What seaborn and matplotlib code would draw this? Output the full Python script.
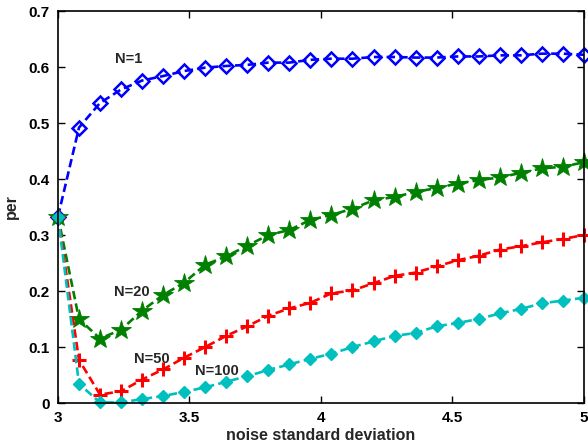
import numpy as np
import pandas as pd
import matplotlib
matplotlib.use("Agg")
import matplotlib.pyplot as plt
import seaborn as sns

# noise levels (standard deviation)
sigma = [3.00, 3.08, 3.16, 3.24, 3.32, 3.40, 3.48, 3.56, 3.64, 3.72, 3.80, 3.88, 3.96,
         4.04, 4.12, 4.20, 4.28, 4.36, 4.44, 4.52, 4.60, 4.68, 4.76, 4.84, 4.92, 5.00]

per_n1 = [0.333, 0.492, 0.536, 0.560, 0.576, 0.584, 0.593, 0.599, 0.602, 0.604, 0.608, 0.608, 0.613,
          0.615, 0.615, 0.618, 0.618, 0.617, 0.617, 0.619, 0.619, 0.621, 0.621, 0.624, 0.624, 0.622]
per_n20 = [0.333, 0.150, 0.115, 0.131, 0.165, 0.193, 0.215, 0.247, 0.262, 0.281, 0.300, 0.309, 0.327,
           0.336, 0.347, 0.362, 0.368, 0.377, 0.384, 0.392, 0.398, 0.403, 0.411, 0.419, 0.422, 0.430]
per_n50 = [0.333, 0.077, 0.015, 0.021, 0.042, 0.060, 0.081, 0.100, 0.120, 0.137, 0.156, 0.169, 0.179,
           0.196, 0.201, 0.214, 0.227, 0.233, 0.244, 0.255, 0.263, 0.274, 0.280, 0.287, 0.293, 0.300]
per_n100 = [0.333, 0.034, 0.001, 0.001, 0.007, 0.0125, 0.020, 0.028, 0.038, 0.048, 0.059, 0.069, 0.079,
            0.088, 0.100, 0.110, 0.120, 0.125, 0.137, 0.143, 0.150, 0.160, 0.168, 0.178, 0.183, 0.188]

series_names = ["N=1", "N=20", "N=50", "N=100"]
series_values = [per_n1, per_n20, per_n50, per_n100]

df = pd.concat(
    [pd.DataFrame({"sigma": sigma, "per": v, "N": name})
     for name, v in zip(series_names, series_values)],
    ignore_index=True,
)

sns.set_theme(style="ticks")
plt.rcParams["font.family"] = ["Liberation Sans", "DejaVu Sans"]
plt.rcParams["font.weight"] = "bold"

fig = plt.figure(figsize=(5.88, 4.44), dpi=100)
ax = fig.add_axes([0.0986, 0.0923, 0.8944, 0.8827])

styles = {
    "N=1":   dict(color="#0000ff", marker="D", markersize=7.5, markerfacecolor="none",
                  markeredgewidth=1.8, markeredgecolor="#0000ff"),
    "N=20":  dict(color="#008000", marker="*", markersize=15, markerfacecolor="#008000",
                  markeredgecolor="#008000", markeredgewidth=0.6),
    "N=50":  dict(color="#ff0000", marker="+", markersize=10, markeredgewidth=2.2,
                  markeredgecolor="#ff0000"),
    "N=100": dict(color="#00bfbf", marker="D", markersize=6, markerfacecolor="#00bfbf",
                  markeredgecolor="#00bfbf", markeredgewidth=1.0),
}

for name in series_names:
    sub = df[df["N"] == name]
    sns.lineplot(data=sub, x="sigma", y="per", ax=ax, linewidth=1.9,
                 linestyle=(0, (3.2, 1.6)), legend=False, clip_on=False,
                 **styles[name])

ax.set_xlim(3, 5)
ax.set_ylim(0, 0.7)
ax.set_xticks([3, 3.5, 4, 4.5, 5])
ax.set_xticklabels(["3", "3.5", "4", "4.5", "5"])
ax.set_yticks(np.arange(0, 0.71, 0.1))
ax.set_yticklabels(["0", "0.1", "0.2", "0.3", "0.4", "0.5", "0.6", "0.7"])

ax.tick_params(direction="in", length=5, width=1, top=True, right=True,
               labelsize=11, pad=6, colors="black")
for lab in ax.get_xticklabels() + ax.get_yticklabels():
    lab.set_fontweight("bold")
for sp in ax.spines.values():
    sp.set_visible(True)
    sp.set_linewidth(1.2)
    sp.set_color("black")

ax.set_xlabel("noise standard deviation", fontsize=11.5, fontweight="bold", labelpad=2)
ax.set_ylabel("per", fontsize=11.5, fontweight="bold", labelpad=7)

# curve labels
ax.text(3.27, 0.614, "N=1", fontsize=10.5, fontweight="bold", ha="center", va="center")
ax.text(3.28, 0.198, "N=20", fontsize=10.5, fontweight="bold", ha="center", va="center")
ax.text(3.355, 0.078, "N=50", fontsize=10.5, fontweight="bold", ha="center", va="center")
ax.text(3.605, 0.057, "N=100", fontsize=10.5, fontweight="bold", ha="center", va="center")

fig.savefig("out.png", dpi=100)
